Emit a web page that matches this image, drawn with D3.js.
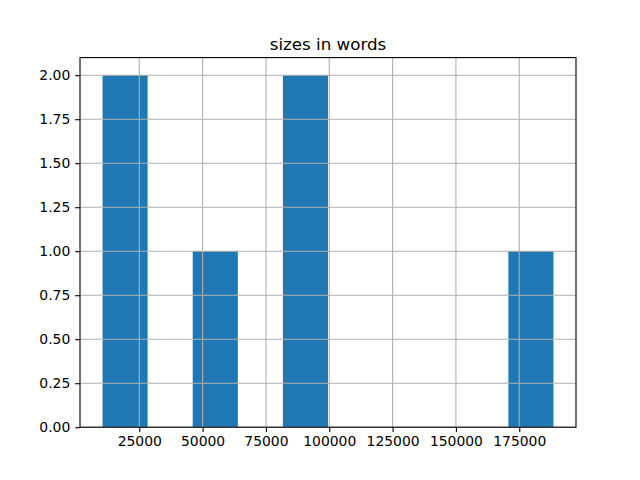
<!DOCTYPE html>
<html><head><meta charset="utf-8">
<script src="https://cdn.jsdelivr.net/npm/d3@7"></script>
<style>body{margin:0;background:#fff}svg{display:block}text{font-family:"DejaVu Sans",sans-serif;fill:#000}</style>
</head><body>
<script>
const title = "sizes in words";
const sizes = [10500, 21000, 52000, 86000, 97000, 188500];
const binCount = 10;
const xTicks = [25000, 50000, 75000, 100000, 125000, 150000, 175000];
const yTicks = [0, 0.25, 0.5, 0.75, 1.0, 1.25, 1.5, 1.75, 2.0];

const W = 640, H = 480;
const m = {l: 80, r: 576, t: 57.6, b: 427.2};
const svg = d3.select("body").append("svg").attr("width", W).attr("height", H);

const lo = d3.min(sizes), hi = d3.max(sizes);
const step = (hi - lo) / binCount;
const edges = d3.range(binCount + 1).map(i => lo + i * step);
const bins = d3.range(binCount).map(i => ({
  x0: edges[i], x1: edges[i + 1],
  n: sizes.filter(v => v >= edges[i] && (i === binCount - 1 ? v <= edges[i + 1] : v < edges[i + 1])).length
}));
const maxN = d3.max(bins, d => d.n);
const pad = (hi - lo) * 0.05;
const x = d3.scaleLinear().domain([lo - pad, hi + pad]).range([m.l, m.r]);
const y = d3.scaleLinear().domain([0, maxN * 1.05]).range([m.b, m.t]);

// bars
svg.append("g").selectAll("rect").data(bins.filter(d => d.n > 0)).join("rect")
  .attr("x", d => x(d.x0)).attr("width", d => x(d.x1) - x(d.x0))
  .attr("y", d => y(d.n)).attr("height", d => y(0) - y(d.n))
  .attr("fill", "#1f77b4");

// grid
const g = svg.append("g").attr("stroke", "#b0b0b0").attr("stroke-width", 1.1);
g.selectAll(".gx").data(xTicks).join("line")
  .attr("x1", d => x(d)).attr("x2", d => x(d)).attr("y1", m.t).attr("y2", m.b);
g.selectAll(".gy").data(yTicks).join("line")
  .attr("y1", d => y(d)).attr("y2", d => y(d)).attr("x1", m.l).attr("x2", m.r);

// axes
const xAxis = d3.axisBottom(x).tickValues(xTicks).tickFormat(d3.format("d")).tickSize(4.86).tickPadding(4.2);
const yAxis = d3.axisLeft(y).tickValues(yTicks).tickFormat(d3.format(".2f")).tickSize(4.86).tickPadding(4.86);
const gx = svg.append("g").attr("transform", `translate(0,${m.b})`).call(xAxis);
const gy = svg.append("g").attr("transform", `translate(${m.l},0)`).call(yAxis);
[gx, gy].forEach(a => {
  a.select(".domain").remove();
  a.selectAll(".tick line").attr("stroke", "#000").attr("stroke-width", 1.1);
  a.selectAll(".tick text").attr("font-size", 13.9).attr("font-family", "DejaVu Sans").attr("fill", "#000");
});

// spines
svg.append("rect").attr("x", m.l).attr("y", m.t).attr("width", m.r - m.l).attr("height", m.b - m.t)
  .attr("fill", "none").attr("stroke", "#000").attr("stroke-width", 1.1);

svg.append("text").attr("x", (m.l + m.r) / 2).attr("y", 49.5).attr("text-anchor", "middle")
  .attr("font-size", 16.7).text(title);
</script>
</body></html>
